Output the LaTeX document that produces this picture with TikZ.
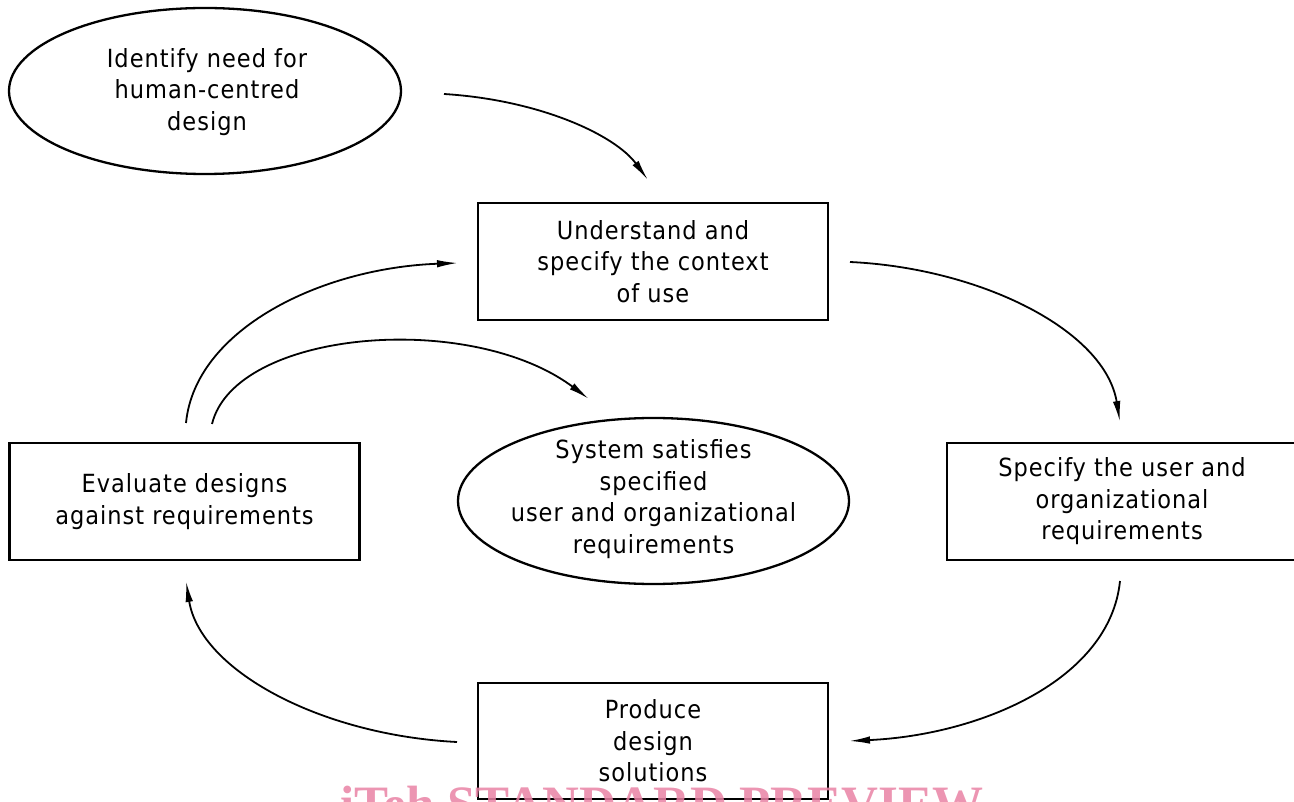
\documentclass[tikz,border=0pt]{standalone}
\usepackage{fontspec}
\setmainfont{DejaVu Sans Condensed}[LetterSpace=4]
\newfontfamily\wmfont{Liberation Serif}
\usetikzlibrary{arrows.meta}
\definecolor{wmpink}{RGB}{233,130,165}
\begin{document}
\begin{tikzpicture}[x=1pt,y=-1pt,
  txt/.style={align=center, inner sep=0pt, font=\fontsize{25}{31.5}\selectfont},
  box/.style={draw, line width=2.3pt, minimum width=350pt, minimum height=117pt, txt},
  outline/.style={line width=2.3pt},
  flow/.style={line width=1.8pt, -{Latex[length=21pt,width=7.5pt]}}]
\useasboundingbox (0,0) rectangle (1294,802);
\clip (0,0) rectangle (1294,802);

% nodes
\node[txt] (identify) at (207,92) {Identify need for\\human-centred\\design};
\draw[outline] (205,91) ellipse [x radius=196pt, y radius=83pt];

\node[box] (understand) at (653,261.5) {Understand and\\specify the context\\of use};
\node[box] (evaluate) at (184.5,501.5) {Evaluate designs\\against requirements};
\node[box] (specify) at (1122,501.5) {Specify the user and\\organizational\\requirements};
\node[box, minimum height=116pt] (produce) at (653,741) {Produce\\design\\solutions};

\node[txt] (system) at (653.5,499) {System satisfies\\specified\\user and organizational\\requirements};
\draw[outline] (653.5,501) ellipse [x radius=195.5pt, y radius=83pt];

% connector ends
\coordinate (a1s) at (444,94);   \coordinate (a1e) at (648,180);
\coordinate (a2s) at (850,262);  \coordinate (a2e) at (1120,422);
\coordinate (a3s) at (1120,581); \coordinate (a3e) at (849,741);
\coordinate (a4s) at (457,742);  \coordinate (a4e) at (186,581);
\coordinate (a5s) at (186,423);  \coordinate (a5e) at (458,263);
\coordinate (a6s) at (212,424);  \coordinate (a6e) at (589,399);

\draw[flow] (a1s) .. controls (540,100) and (615,135) .. (a1e);
\draw[flow] (a2s) .. controls (980,268) and (1105,330) .. (a2e);
\draw[flow] (a3s) .. controls (1110,680) and (980,735) .. (a3e);
\draw[flow] (a4s) .. controls (320,735) and (200,670) .. (a4e);
\draw[flow] (a5s) .. controls (195,330) and (320,268) .. (a5e);
\draw[flow] (a6s) .. controls (235,330) and (470,310) .. (a6e);

% watermark
\node[anchor=base west, inner sep=0pt, text=wmpink, opacity=0.85,
      font=\wmfont\bfseries\fontsize{51}{51}\selectfont] (wm) at (340,821) {iTeh STANDARD PREVIEW};
\end{tikzpicture}
\end{document}
